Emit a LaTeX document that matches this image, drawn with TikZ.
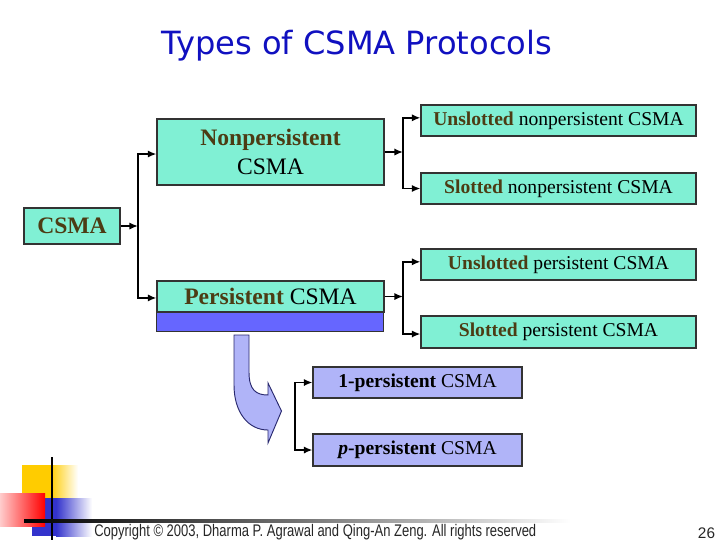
\documentclass[tikz,border=0pt]{standalone}
\usepackage{fontspec}
\setmainfont{Liberation Serif}
\newfontfamily\titlefont{DejaVu Sans}
\newfontfamily\footfont{Liberation Sans}
\usetikzlibrary{arrows.meta}
\definecolor{tealbox}{RGB}{128,240,212}
\definecolor{lavbox}{RGB}{176,180,248}
\definecolor{barblue}{RGB}{102,102,255}
\definecolor{olive}{RGB}{76,60,20}
\definecolor{titleblue}{RGB}{16,16,192}
\definecolor{arrowedge}{RGB}{40,40,110}
\definecolor{gold}{RGB}{255,204,0}
\definecolor{decoblue}{RGB}{51,51,204}
\newcommand{\bw}[1]{\textbf{\color{olive}#1}}
\begin{document}
\begin{tikzpicture}[x=0.75pt,y=-0.75pt,
  tbox/.style={draw=black!80, line width=0.8pt, fill=tealbox, inner sep=0pt, text=black},
  lbox/.style={draw=black!80, line width=0.8pt, fill=lavbox, inner sep=0pt, text=black},
  bigtxt/.style={font=\fontsize{17.7}{21.75}\selectfont},
  smalltxt/.style={font=\fontsize{14.7}{17}\selectfont},
  conn/.style={line width=1.4pt, -{Latex[length=6.5pt,width=5.5pt]}},
  plain/.style={line width=1.4pt}
]
\useasboundingbox (0,0) rectangle (720,540);

% title
\node[anchor=base, text=titleblue, inner sep=0pt] (title) at (356.7,54)
  {\resizebox{293pt}{\height}{\titlefont\fontsize{24}{28}\selectfont Types of CSMA Protocols}};

% boxes
\node[tbox, bigtxt, minimum width=72pt, minimum height=27pt] (csma) at (72,226) {\bw{CSMA}};
\node[tbox, bigtxt, align=center, minimum width=170.25pt, minimum height=49.5pt] (nonp) at (270.5,152) {\bw{Nonpersistent}\\CSMA};
\node[tbox, bigtxt, minimum width=170.25pt, minimum height=23.25pt] (pers) at (270.5,296.5) {\bw{Persistent} CSMA};
\draw[line width=0.8pt, draw=black!80, fill=barblue] (pers.south west) rectangle ([xshift=-0.75pt,yshift=-14.25pt]pers.south east);

\node[tbox, smalltxt, minimum width=206.25pt, minimum height=23.25pt] (un) at (558.5,120.5) {\bw{Unslotted} nonpersistent CSMA};
\node[tbox, smalltxt, minimum width=206.25pt, minimum height=23.25pt] (sn) at (558.5,188.5) {\bw{Slotted} nonpersistent CSMA};
\node[tbox, smalltxt, minimum width=206.25pt, minimum height=23.25pt] (up) at (558.5,264.5) {\bw{Unslotted} persistent CSMA};
\node[tbox, smalltxt, minimum width=206.25pt, minimum height=24pt] (sp) at (558.5,332) {\bw{Slotted} persistent CSMA};

\node[lbox, smalltxt, minimum width=156.75pt, minimum height=23.25pt] (p1) at (417.5,382.5) {\textbf{1-persistent} CSMA};
\node[lbox, smalltxt, minimum width=156.75pt, minimum height=24pt] (pp) at (417.5,450) {\textbf{\textit{p}-persistent} CSMA};

% junctions
\coordinate (j1) at (138,226);
\coordinate (j2) at (403,152);
\coordinate (j3) at (403,296.5);
\coordinate (j4) at (295,416);

\draw[conn] (csma.east) -- (j1);
\draw[conn] (j1) |- ([yshift=-1.5pt]nonp.west);
\draw[conn] (j1) |- ([yshift=-1.1pt]pers.west);

\draw[conn] (nonp.east |- j2) -- (j2);
\draw[conn] (j2) |- ([yshift=2pt]un.west);
\draw[conn] (j2) |- (sn.west);

\draw[conn] (pers.east) -- (j3);
\draw[conn] (j3) |- ([yshift=2pt]up.west);
\draw[conn] (j3) |- ([yshift=-1.5pt]sp.west);

\draw[conn] (j4) |- (p1.west);
\draw[conn] (j4) |- (pp.west);

% curved arrow
\draw[fill=lavbox, draw=arrowedge, line width=0.7pt]
  (234,335) -- (249,335) -- (249,372) .. controls (249,390) and (256,395) .. (268,395)
  -- (268,383) -- (281.5,411) -- (268,443) -- (268,430)
  .. controls (248,430) and (234,412) .. (234,385) -- cycle;

% decoration
\fill[gold] (22,465) rectangle (50,498);
\shade[left color=gold, right color=white] (50,465) rectangle (78,498);
\fill[decoblue] (32,498) rectangle (56,536);
\shade[left color=decoblue, right color=white] (56,498) rectangle (92,536);
\shade[left color=red!20, right color=red] (0,493) rectangle (45,526);
\draw[line width=1.8pt, black] (51.7,457) -- (51.7,540);
\shade[left color=black, right color=white, middle color=black!55] (24,519.3) rectangle (570,522.3);

% footer
\node[anchor=base west, inner sep=0pt, text=black!85] (copy) at (94,536)
  {\resizebox{331.5pt}{\height}{\footfont\fontsize{12.6}{14}\selectfont Copyright \textcopyright\ 2003, Dharma P. Agrawal and Qing-An Zeng. All rights reserved}};
\node[anchor=base, inner sep=0pt, text=black!85, font=\footfont\fontsize{11.5}{13}\selectfont] (pnum) at (706.5,538) {26};
\end{tikzpicture}
\end{document}
